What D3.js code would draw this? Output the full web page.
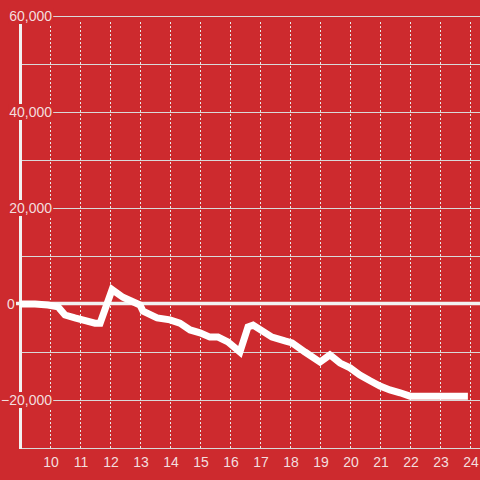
<!DOCTYPE html>
<html>
<head>
<meta charset="utf-8">
<script src="https://cdn.jsdelivr.net/npm/d3@7"></script>
<style>
html,body{margin:0;padding:0;background:#cd2a2e;}
svg{display:block;}
</style>
</head>
<body>
<svg id="chart" width="480" height="480"></svg>
<script>
const hours = [9.0, 9.5, 9.93, 10.27, 10.5, 10.83, 11.5, 11.67, 12.07, 12.43, 13.0, 13.1, 13.57, 14.0, 14.33, 14.67, 15.0, 15.33, 15.6, 15.93, 16.33, 16.6, 16.77, 17.4, 17.83, 18.07, 18.5, 19.0, 19.33, 19.67, 20.0, 20.33, 20.67, 21.0, 21.33, 21.67, 22.0, 23.93];
const values = [0, 0, -200, -600, -2300, -2900, -4000, -4000, 3000, 1400, -200, -1500, -2900, -3300, -4000, -5400, -6000, -6900, -6900, -7900, -10000, -4800, -4400, -6900, -7700, -8100, -10000, -12100, -10600, -12300, -13300, -14800, -16000, -17100, -17900, -18500, -19200, -19200];
const xTicks = [10, 11, 12, 13, 14, 15, 16, 17, 18, 19, 20, 21, 22, 23, 24];
const yGrid = [60000, 50000, 40000, 30000, 20000, 10000, 0, -10000, -20000, -30000];
const yLabels = [60000, 40000, 20000, 0, -20000];

const svg = d3.select("#chart");
const x = d3.scaleLinear().domain([9, 24]).range([20, 470]);
const y = d3.scaleLinear().domain([-30000, 60000]).range([448, 16]);
const fmt = d3.format(",");

// horizontal gridlines
svg.append("g").selectAll("line").data(yGrid.filter(d => d !== 0)).join("line")
  .attr("x1", 20).attr("x2", 480)
  .attr("y1", d => y(d) + 0.5).attr("y2", d => y(d) + 0.5)
  .attr("stroke", "#d9d9d9").attr("stroke-width", 1);

// vertical dashed gridlines
svg.append("g").selectAll("line").data(xTicks).join("line")
  .attr("x1", d => Math.round(x(d)) + 0.5).attr("x2", d => Math.round(x(d)) + 0.5)
  .attr("y1", 22).attr("y2", 448)
  .attr("stroke", "#e8e8e8").attr("stroke-width", 1)
  .attr("stroke-dasharray", "2,2");

// zero line
svg.append("line")
  .attr("x1", 16).attr("x2", 480)
  .attr("y1", y(0) - 0.5).attr("y2", y(0) - 0.5)
  .attr("stroke", "#f2f2f2").attr("stroke-width", 3.5);

// y axis line
svg.append("line")
  .attr("x1", 20.5).attr("x2", 20.5)
  .attr("y1", 16).attr("y2", 449)
  .attr("stroke", "#f2f2f2").attr("stroke-width", 3);

// data line
const line = d3.line().x((d, i) => x(hours[i])).y(d => y(d));
svg.append("path")
  .datum(values)
  .attr("d", line)
  .attr("fill", "none")
  .attr("stroke", "#ffffff")
  .attr("stroke-width", 7)
  .attr("stroke-linejoin", "miter");

// y labels with background boxes
const lg = svg.append("g").selectAll("g").data(yLabels).join("g");
lg.each(function(d) {
  const g = d3.select(this);
  const t = g.append("text")
    .attr("x", d === 0 ? 7 : 52)
    .attr("y", y(d))
    .attr("dy", "0.36em")
    .attr("text-anchor", d === 0 ? "start" : "end")
    .attr("font-family", "Liberation Sans, Arial, sans-serif")
    .attr("font-size", 14)
    .attr("fill", "#f3dede")
    .text(fmt(d).replace("-", "-"));
  const bb = t.node().getBBox();
  g.insert("rect", "text")
    .attr("x", bb.x - 1).attr("y", y(d) - 8)
    .attr("width", bb.width + 2).attr("height", 16)
    .attr("fill", "#cd2a2e");
});

// x labels
svg.append("g").selectAll("text").data(xTicks).join("text")
  .attr("x", d => x(d) + 1)
  .attr("y", 467)
  .attr("text-anchor", "middle")
  .attr("font-family", "Liberation Sans, Arial, sans-serif")
  .attr("font-size", 14)
  .attr("fill", "#f3dede")
  .text(d => d);
</script>
</body>
</html>
